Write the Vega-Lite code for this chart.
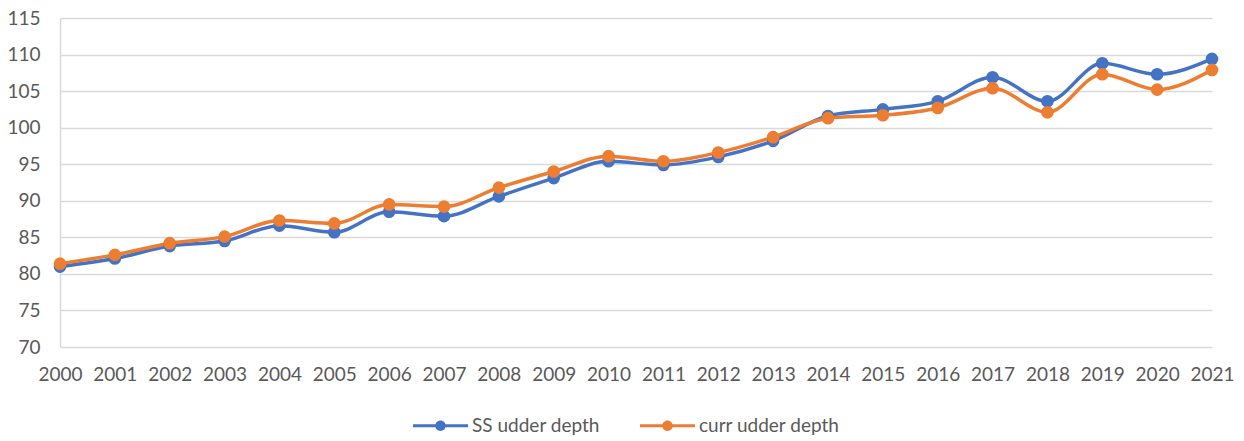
{
  "$schema": "https://vega.github.io/schema/vega-lite/v6.json",
  "width": 1152,
  "height": 329,
  "autosize": "none",
  "padding": {"left": 60, "top": 18, "right": 32, "bottom": 94},
  "background": "white",
  "config": {
    "view": {"stroke": null},
    "font": "Lato",
    "axis": {"labelFont": "Lato", "labelFontSize": 19, "labelColor": "#595959", "title": null}
  },
  "data": {"values": [
    {"year": "2000", "series": "SS udder depth", "value": 81.0},
    {"year": "2001", "series": "SS udder depth", "value": 82.1},
    {"year": "2002", "series": "SS udder depth", "value": 83.8},
    {"year": "2003", "series": "SS udder depth", "value": 84.5},
    {"year": "2004", "series": "SS udder depth", "value": 86.6},
    {"year": "2005", "series": "SS udder depth", "value": 85.7},
    {"year": "2006", "series": "SS udder depth", "value": 88.5},
    {"year": "2007", "series": "SS udder depth", "value": 87.9},
    {"year": "2008", "series": "SS udder depth", "value": 90.6},
    {"year": "2009", "series": "SS udder depth", "value": 93.1},
    {"year": "2010", "series": "SS udder depth", "value": 95.4},
    {"year": "2011", "series": "SS udder depth", "value": 94.9},
    {"year": "2012", "series": "SS udder depth", "value": 96.0},
    {"year": "2013", "series": "SS udder depth", "value": 98.2},
    {"year": "2014", "series": "SS udder depth", "value": 101.6},
    {"year": "2015", "series": "SS udder depth", "value": 102.5},
    {"year": "2016", "series": "SS udder depth", "value": 103.6},
    {"year": "2017", "series": "SS udder depth", "value": 106.9},
    {"year": "2018", "series": "SS udder depth", "value": 103.6},
    {"year": "2019", "series": "SS udder depth", "value": 108.8},
    {"year": "2020", "series": "SS udder depth", "value": 107.3},
    {"year": "2021", "series": "SS udder depth", "value": 109.4},
    {"year": "2000", "series": "curr udder depth", "value": 81.4},
    {"year": "2001", "series": "curr udder depth", "value": 82.6},
    {"year": "2002", "series": "curr udder depth", "value": 84.2},
    {"year": "2003", "series": "curr udder depth", "value": 85.1},
    {"year": "2004", "series": "curr udder depth", "value": 87.3},
    {"year": "2005", "series": "curr udder depth", "value": 86.9},
    {"year": "2006", "series": "curr udder depth", "value": 89.5},
    {"year": "2007", "series": "curr udder depth", "value": 89.2},
    {"year": "2008", "series": "curr udder depth", "value": 91.8},
    {"year": "2009", "series": "curr udder depth", "value": 94.0},
    {"year": "2010", "series": "curr udder depth", "value": 96.1},
    {"year": "2011", "series": "curr udder depth", "value": 95.4},
    {"year": "2012", "series": "curr udder depth", "value": 96.6},
    {"year": "2013", "series": "curr udder depth", "value": 98.7},
    {"year": "2014", "series": "curr udder depth", "value": 101.3},
    {"year": "2015", "series": "curr udder depth", "value": 101.7},
    {"year": "2016", "series": "curr udder depth", "value": 102.7},
    {"year": "2017", "series": "curr udder depth", "value": 105.4},
    {"year": "2018", "series": "curr udder depth", "value": 102.1},
    {"year": "2019", "series": "curr udder depth", "value": 107.3},
    {"year": "2020", "series": "curr udder depth", "value": 105.2},
    {"year": "2021", "series": "curr udder depth", "value": 107.9}
  ]},
  "encoding": {
    "x": {
      "field": "year", "type": "ordinal",
      "scale": {"type": "point", "padding": 0},
      "axis": {"labelAngle": 0, "ticks": false, "tickSize": 0, "labelPadding": 18, "domain": false, "grid": false}
    },
    "y": {
      "field": "value", "type": "quantitative",
      "scale": {"domain": [70, 115], "nice": false, "zero": false},
      "axis": {"values": [70, 75, 80, 85, 90, 95, 100, 105, 110, 115], "ticks": false, "tickSize": 0, "labelPadding": 20,
        "grid": true, "gridColor": "#D9D9D9", "gridWidth": 1.5, "domain": true, "domainColor": "#D9D9D9", "domainWidth": 1.5}
    },
    "color": {
      "field": "series", "type": "nominal",
      "scale": {"domain": ["SS udder depth", "curr udder depth"], "range": ["#4472C4", "#ED7D31"]},
      "legend": {
        "orient": "none", "legendX": 353, "legendY": 380, "direction": "horizontal", "title": null, "padding": 0,
        "symbolType": "M-1,-0.055H1V0.055H-1Z M-0.19,0A0.19,0.19 0 1,1 0.19,0A0.19,0.19 0 1,1 -0.19,0Z",
        "symbolSize": 3025, "symbolStrokeWidth": 0, "symbolOpacity": 1,
        "labelFont": "Lato", "labelFontSize": 19, "labelColor": "#595959", "columnPadding": 40, "labelOffset": 4
      }
    }
  },
  "layer": [
    {"mark": {"type": "line", "strokeWidth": 3.5, "interpolate": "monotone"}},
    {"mark": {"type": "point", "filled": true, "size": 160, "opacity": 1}, "encoding": {}}
  ]
}
